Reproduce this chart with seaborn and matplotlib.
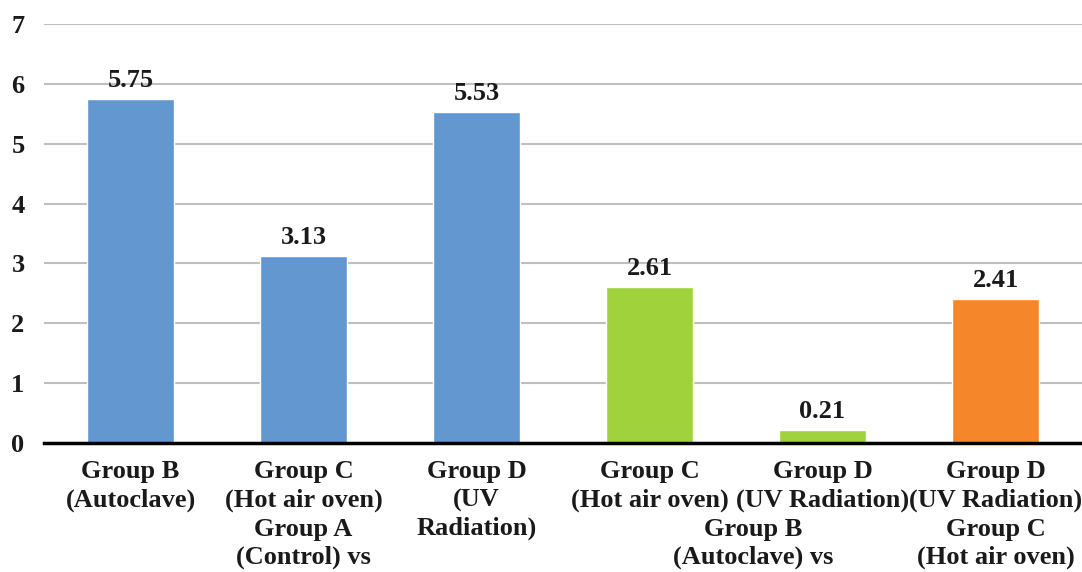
import matplotlib
matplotlib.use("Agg")
import matplotlib.pyplot as plt
import pandas as pd
import seaborn as sns

categories = ["Group B\n(Autoclave)", "Group C\n(Hot air oven)", "Group D\n(UV\nRadiation)",
              "Group C\n(Hot air oven)", "Group D\n(UV Radiation)", "Group D\n(UV Radiation)"]
values = [5.75, 3.13, 5.53, 2.61, 0.21, 2.41]
bar_colors = ["#6297CF", "#6297CF", "#6297CF", "#A0D33B", "#A0D33B", "#F5862A"]
group_labels = ["Group A\n(Control) vs", "Group B\n(Autoclave) vs", "Group C\n(Hot air oven)"]
group_pos = [1, 3.6, 5]
yticks = [0, 1, 2, 3, 4, 5, 6, 7]

sns.set_style("white")
plt.rcParams["font.family"] = ["Liberation Serif", "DejaVu Serif"]
plt.rcParams["font.weight"] = "bold"

df = pd.DataFrame({"pos": [str(i) for i in range(len(values))], "value": values})

fig = plt.figure(figsize=(10.82, 5.72), dpi=100)
ax = fig.add_axes([0.0407, 0.2255, 0.9593, 0.7325])
sns.barplot(data=df, x="pos", y="value", hue="pos", palette=bar_colors,
            legend=False, width=0.5, saturation=1, ax=ax)

for c in ax.containers:
    ax.bar_label(c, fmt="%.2f", padding=5, fontsize=19, fontweight="bold", color="#1a1a1a")

ax.set_ylim(0, 7)
ax.set_yticks(yticks)
ax.set_xticks(range(len(categories)))
ax.set_xticklabels(categories, fontsize=19, fontweight="bold", color="#1a1a1a",
                   linespacing=1.3)
ax.set_xlim(-0.5, len(categories) - 0.5)
ax.tick_params(axis="x", length=0, pad=12)
ax.tick_params(axis="y", length=0, pad=14, labelsize=19, labelcolor="#1a1a1a")
ax.set_xlabel("")
ax.set_ylabel("")

ax.yaxis.grid(True, color="#BFBFBF", linewidth=1.5)
ax.set_axisbelow(True)
for s in ["top", "right", "left"]:
    ax.spines[s].set_visible(False)
ax.spines["bottom"].set_color("black")
ax.spines["bottom"].set_linewidth(2.5)

for label, x in zip(group_labels, group_pos):
    ax.text(x, -0.178, label, transform=ax.get_xaxis_transform(), ha="center", va="top",
            fontsize=19, fontweight="bold", color="#1a1a1a", linespacing=1.3)

fig.savefig("out.png", dpi=100)
